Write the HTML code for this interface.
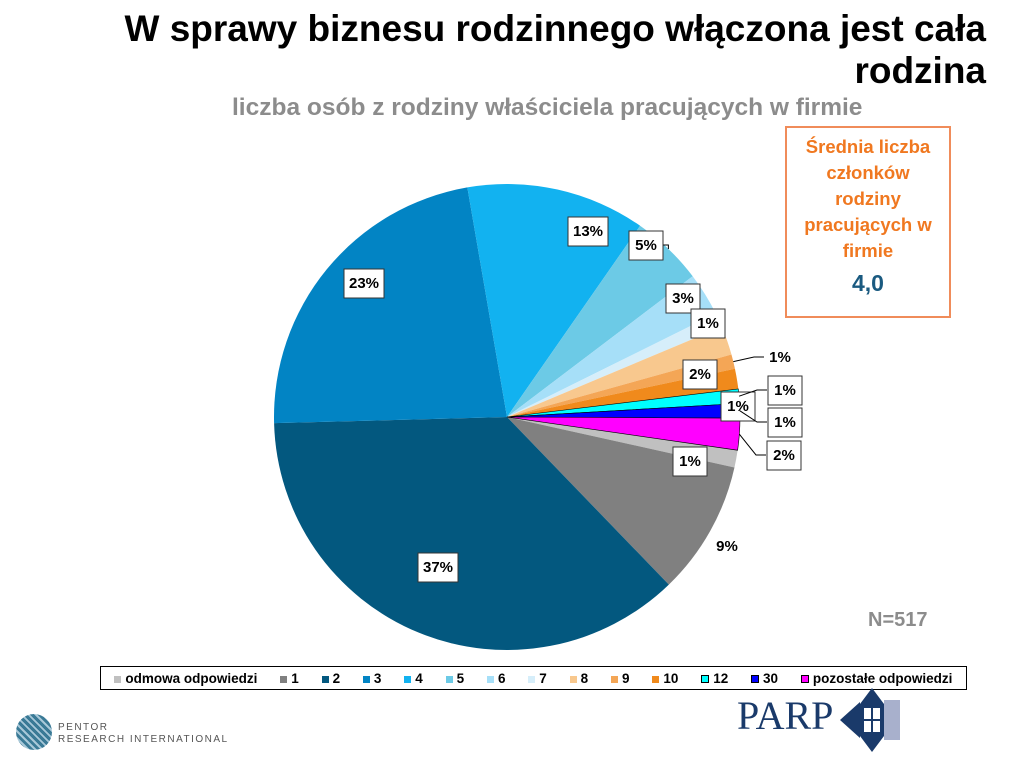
<!DOCTYPE html>
<html><head><meta charset="utf-8"><style>
body{margin:0;width:1024px;height:768px;background:#fff;font-family:"Liberation Sans",Arial,sans-serif;position:relative;overflow:hidden}
.t{position:absolute;font-weight:bold}
</style></head><body>
<div class="t" style="right:38px;top:8px;font-size:37px;text-align:right;line-height:42px;color:#000;white-space:nowrap">W sprawy biznesu rodzinnego włączona jest cała<br>rodzina</div>
<div class="t" style="left:232px;top:94px;font-size:24.5px;color:#8c8c8c;white-space:nowrap">liczba osób z rodziny właściciela pracujących w firmie</div>
<div style="position:absolute;left:785px;top:126px;width:166px;height:192px;border:2px solid #f08c5a;text-align:center;font-weight:bold;color:#f07820;font-size:18.5px;line-height:26px;box-sizing:border-box;padding-top:6px;white-space:nowrap">Średnia liczba<br>członków<br>rodziny<br>pracujących w<br>firmie<div style="color:#1a5a80;font-size:23px;margin-top:6px">4,0</div></div>
<div class="t" style="left:868px;top:609px;font-size:20px;color:#8c8c8c">N=517</div>
<svg id="pie" width="1024" height="768" style="position:absolute;left:0;top:0"></svg>
<div style="position:absolute;left:100px;top:666px;width:867px;height:24px;border:1px solid #000;box-sizing:border-box;font-size:13.5px;font-weight:bold;display:flex;align-items:center;justify-content:space-around;padding:0 2px;white-space:nowrap" id="legend"></div>
<div style="position:absolute;left:16px;top:714px;width:36px;height:36px;border-radius:50%;background:repeating-linear-gradient(45deg,#3a7a96 0 3px,#a8c8d8 3px 5px)"></div>
<div style="position:absolute;left:58px;top:722px;font-size:10px;color:#555;letter-spacing:1.5px;line-height:12px">PENTOR<br>RESEARCH INTERNATIONAL</div>
<div style="position:absolute;left:737px;top:692px;font-family:'Liberation Serif',serif;font-size:40px;color:#1a3a6a">PARP</div>
<svg style="position:absolute;left:840px;top:688px" width="64" height="64"><polygon points="32,0 44,16 44,48 32,64 20,48 20,16" fill="#1a3a6a"/><polygon points="0,32 20,14 20,50" fill="#1a3a6a"/><rect x="44" y="12" width="16" height="40" fill="#a8b0cc"/><rect x="24" y="20" width="16" height="24" fill="#fff"/><rect x="31" y="20" width="2" height="24" fill="#1a3a6a"/><rect x="24" y="31" width="16" height="2" fill="#1a3a6a"/></svg>
<script>
const categories=["odmowa odpowiedzi","1","2","3","4","5","6","7","8","9","10","12","30","pozostałe odpowiedzi"];
const values=[1.2,9.3,36.8,22.7,12.4,5,3,1,2,1,1.4,1,1,2.2];
const valueLabels=["1%","9%","37%","23%","13%","5%","3%","1%","2%","1%","1%","1%","1%","2%"];
const colors=["#c0c0c0","#808080","#03587f","#0284c4","#12b2f0","#6ccae6","#a6dff8","#d6eefa","#f8c88e","#f4a656","#f08a1c","#00ffff","#0000ff","#ff00ff"];
// layout only: label box centers, boxed flag, leader mode (0 none,1 left,2 right)
const labelPos=[[690,461,1,0],[727,546,0,0],[438,567,1,0],[364,283,1,0],[588,231,1,0],[646,245,1,2],[683,298,1,0],[708,323,1,0],[700,374,1,0],[780,357,0,1],[738,406,1,0],[785,390,1,1],[785,422,1,1],[784,455,1,1]];
const cx=507,cy=417,r=233,startDeg=98.2;
const svg=document.getElementById('pie');const NS="http://www.w3.org/2000/svg";
const total=values.reduce((a,b)=>a+b,0);
function pt(deg,rad){const a=(deg-90)*Math.PI/180;return [cx+rad*Math.cos(a),cy+rad*Math.sin(a)];}
let ang=startDeg;
values.forEach((v,i)=>{
 const sweep=v/total*360;const p1=pt(ang,r),p2=pt(ang+sweep,r);
 const path=document.createElementNS(NS,'path');
 path.setAttribute('d',`M${cx},${cy} L${p1[0]},${p1[1]} A${r},${r} 0 ${sweep>180?1:0} 1 ${p2[0]},${p2[1]} Z`);
 path.setAttribute('fill',colors[i]);
 if(i>=11){path.setAttribute('stroke','#000');path.setAttribute('stroke-width','0.6');}
 
 
 svg.appendChild(path);
 ang+=sweep;
});
ang=startDeg;
values.forEach((v,i)=>{
 const sweep=v/total*360;const [lx,ly,boxed,lead]=labelPos[i];
 const g=document.createElementNS(NS,'g');
 
 
 const e=pt(ang+sweep/2,r*1.0);
 if(lead===1){const l=document.createElementNS(NS,'polyline');const sx=lx-(boxed?18:16);l.setAttribute('points',`${e[0]},${e[1]} ${sx-10},${ly} ${sx},${ly}`);l.setAttribute('fill','none');l.setAttribute('stroke','#000');l.setAttribute('stroke-width','1');g.appendChild(l);}
 if(lead===2){const l=document.createElementNS(NS,'polyline');const sx=lx+17;l.setAttribute('points',`${sx},${ly} ${e[0]},${ly} ${e[0]},${e[1]}`);l.setAttribute('fill','none');l.setAttribute('stroke','#000');l.setAttribute('stroke-width','1');g.appendChild(l);}
 if(boxed){const w=valueLabels[i].length>2?40:34;const b=document.createElementNS(NS,'rect');b.setAttribute('x',lx-w/2);b.setAttribute('y',ly-14);b.setAttribute('width',w);b.setAttribute('height',29);b.setAttribute('fill','#fff');b.setAttribute('stroke','#333');g.appendChild(b);}
 const t=document.createElementNS(NS,'text');t.setAttribute('x',lx);t.setAttribute('y',ly+5);t.setAttribute('text-anchor','middle');t.setAttribute('font-size','15');t.setAttribute('font-weight','bold');t.setAttribute('font-family','Liberation Sans, sans-serif');t.textContent=valueLabels[i];g.appendChild(t);
 svg.appendChild(g);ang+=sweep;
});
const lg=document.getElementById('legend');
categories.forEach((c,i)=>{const s=document.createElement('span');
 
 
 s.innerHTML=`<span style="display:inline-block;width:7px;height:7px;background:${colors[i]};margin-right:4px;${i>=11?'border:1px solid #000;width:6px;height:6px':''}"></span>${c}`;lg.appendChild(s);});
</script>
</body></html>
